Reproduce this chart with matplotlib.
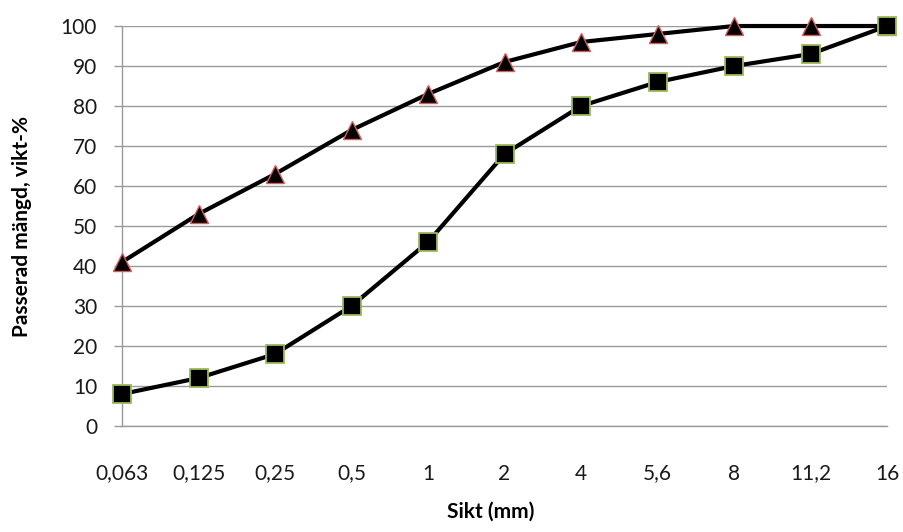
import numpy as np
import matplotlib
matplotlib.use("Agg")
import matplotlib.pyplot as plt

plt.rcParams['font.family'] = ['Lato', 'DejaVu Sans']

sikt = ['0,063', '0,125', '0,25', '0,5', '1', '2', '4', '5,6', '8', '11,2', '16']
passerad_fin = [41, 53, 63, 74, 83, 91, 96, 98, 100, 100, 100]
passerad_grov = [8, 12, 18, 30, 46, 68, 80, 86, 90, 93, 100]

GRID = '#9a9a9a'

fig = plt.figure(figsize=(9.04, 5.32), dpi=100)
ax = fig.add_axes([0.135, 0.1992, 0.8462, 0.7519])

x = np.arange(len(sikt))
ax.plot(x, passerad_fin, color='black', lw=3.0, marker='^', ms=13,
        mfc='black', mec='#d0605c', mew=1.0, zorder=4, clip_on=False,
        solid_joinstyle='round')
ax.plot(x, passerad_grov, color='black', lw=3.0, marker='s', ms=12.5,
        mfc='black', mec='#9bbb59', mew=1.3, zorder=5, clip_on=False,
        solid_joinstyle='round')

ax.set_xlim(0, len(sikt) - 1)
ax.set_ylim(0, 100)
ax.set_yticks(np.arange(0, 101, 10))
ax.set_xticks(x)
ax.set_xticklabels(sikt)

ax.yaxis.grid(True, color=GRID, lw=1)
ax.set_axisbelow(True)
for s in ('top', 'right'):
    ax.spines[s].set_visible(False)
for s in ('left', 'bottom'):
    ax.spines[s].set_color(GRID)
    ax.spines[s].set_linewidth(1)

ax.tick_params(axis='y', length=6, color=GRID, width=1, pad=12, labelsize=15,
               labelcolor='#1a1a1a')
ax.tick_params(axis='x', length=0, pad=27, labelsize=15, labelcolor='#1a1a1a')

ax.set_xlabel('Sikt (mm)', fontsize=15, fontweight='bold', va='center')
ax.xaxis.set_label_coords(0.482, -0.215)
ax.set_ylabel('Passerad mängd, vikt-%', fontsize=15, fontweight='bold',
              va='center')
ax.yaxis.set_label_coords(-0.131, 0.5)

fig.savefig('out.png', dpi=100)
